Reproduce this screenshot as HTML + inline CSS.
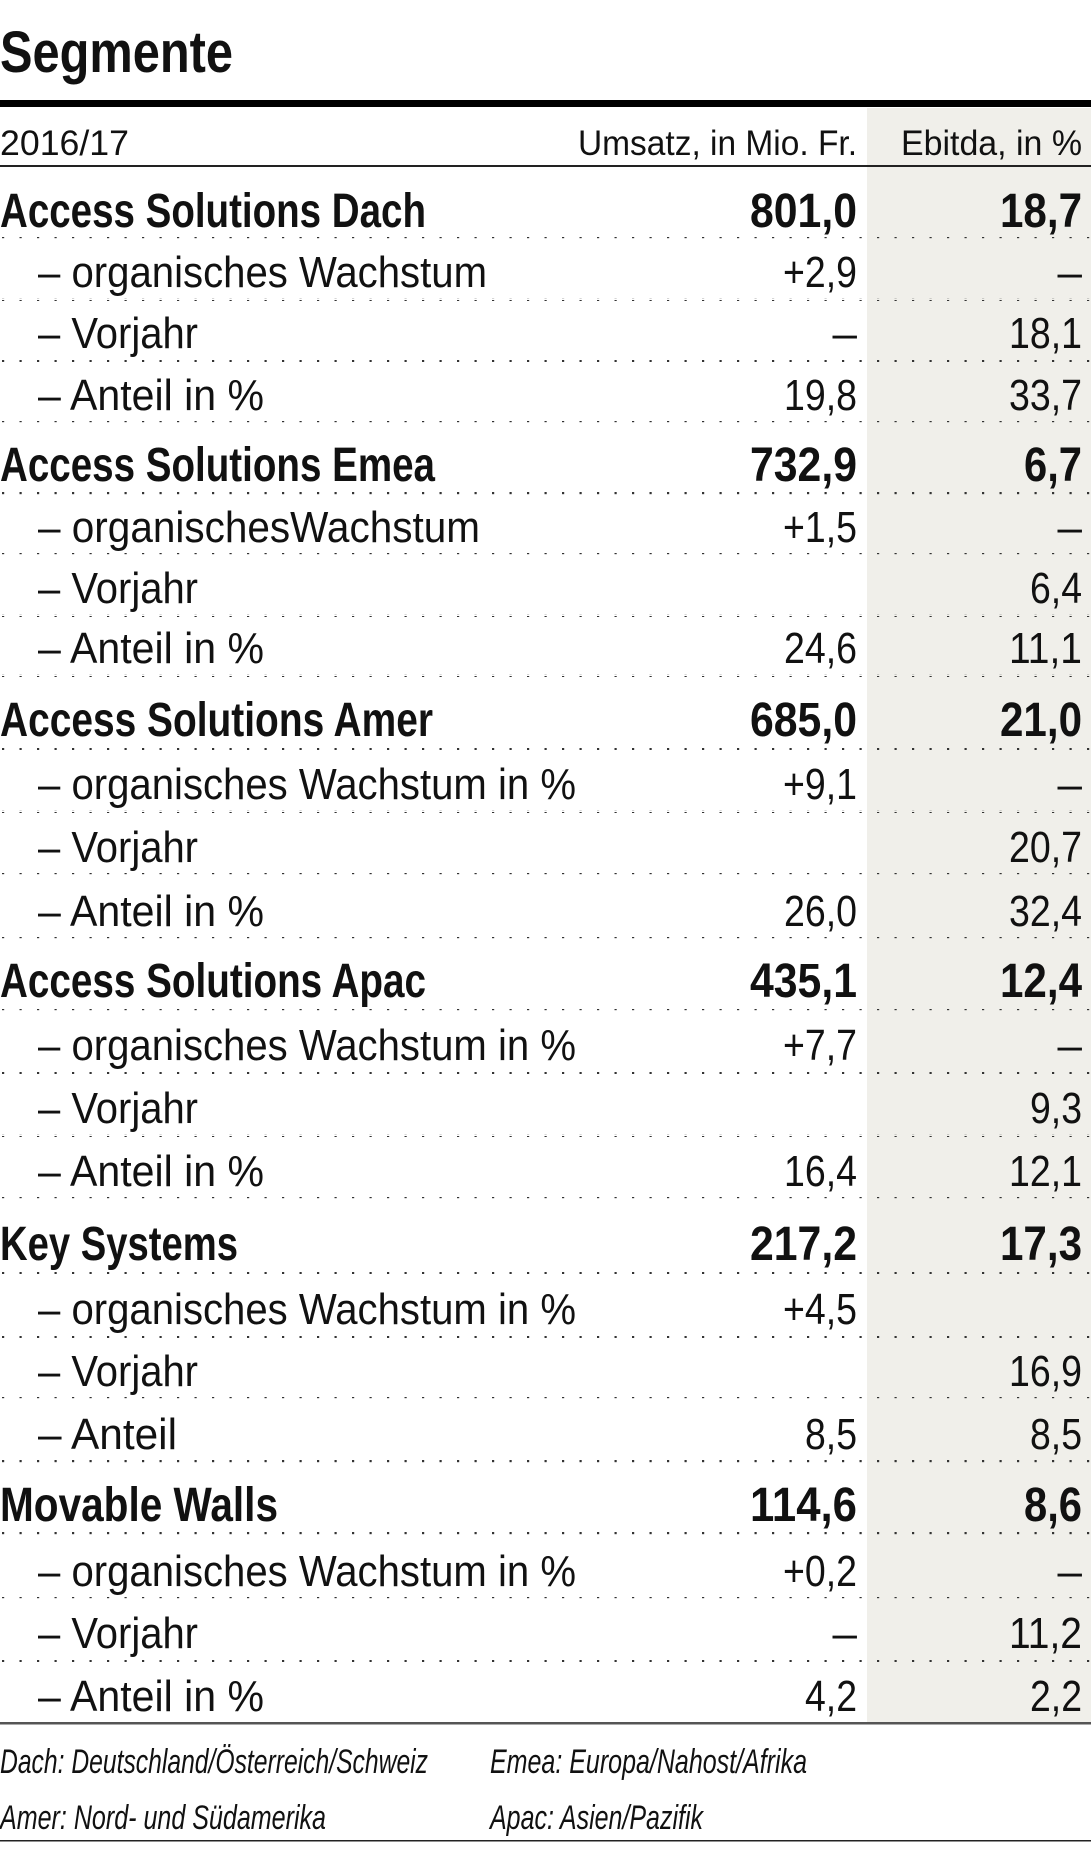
<!DOCTYPE html>
<html><head><meta charset="utf-8"><style>
html,body{margin:0;padding:0;background:#fff;}
svg{display:block;}
text{font-family:"Liberation Sans",sans-serif;fill:#111;}
.b{font-weight:bold;font-size:48px;}
.r{font-size:44px;}
.h{font-size:35px;}
.f{font-size:34px;font-style:italic;}
</style></head><body>
<svg width="1091" height="1871" viewBox="0 0 1091 1871" xmlns="http://www.w3.org/2000/svg">
<defs>
<pattern id="dots" x="2" y="0" width="17.5" height="4" patternUnits="userSpaceOnUse">
<rect x="0" y="0" width="2.2" height="2.2" fill="#333"/>
</pattern>
</defs>
<rect x="867" y="108" width="224" height="1615" fill="#f0efea"/>
<text x="0" y="72" style="font-weight:bold;font-size:58px" textLength="233" lengthAdjust="spacingAndGlyphs">Segmente</text>
<rect x="0" y="100" width="1091" height="7" fill="#000"/>
<text class="h" x="0" y="155" textLength="129" lengthAdjust="spacingAndGlyphs">2016/17</text>
<text class="h" x="578" y="155" textLength="279" lengthAdjust="spacingAndGlyphs">Umsatz, in Mio. Fr.</text>
<text class="h" x="901" y="155" textLength="181" lengthAdjust="spacingAndGlyphs">Ebitda, in %</text>
<rect x="0" y="165" width="1091" height="2" fill="#222"/>

<g fill="url(#dots)">
<rect x="0" y="237" width="1091" height="3"/>
<rect x="0" y="298" width="1091" height="3"/>
<rect x="0" y="359" width="1091" height="3"/>
<rect x="0" y="421" width="1091" height="3"/>
<rect x="0" y="492" width="1091" height="3"/>
<rect x="0" y="553" width="1091" height="3"/>
<rect x="0" y="614" width="1091" height="3"/>
<rect x="0" y="674" width="1091" height="3"/>
<rect x="0" y="747" width="1091" height="3"/>
<rect x="0" y="810" width="1091" height="3"/>
<rect x="0" y="873" width="1091" height="3"/>
<rect x="0" y="937" width="1091" height="3"/>
<rect x="0" y="1009" width="1091" height="3"/>
<rect x="0" y="1071" width="1091" height="3"/>
<rect x="0" y="1134" width="1091" height="3"/>
<rect x="0" y="1197" width="1091" height="3"/>
<rect x="0" y="1271" width="1091" height="3"/>
<rect x="0" y="1335" width="1091" height="3"/>
<rect x="0" y="1397" width="1091" height="3"/>
<rect x="0" y="1460" width="1091" height="3"/>
<rect x="0" y="1532" width="1091" height="3"/>
<rect x="0" y="1597" width="1091" height="3"/>
<rect x="0" y="1659" width="1091" height="3"/>
</g>
<rect x="0" y="1722" width="1091" height="2.5" fill="#555"/>

<!-- Block 1 -->
<text class="b" x="0" y="227" textLength="426" lengthAdjust="spacingAndGlyphs">Access Solutions Dach</text>
<text class="b" x="750" y="227" textLength="107" lengthAdjust="spacingAndGlyphs">801,0</text>
<text class="b" x="1000" y="227" textLength="82" lengthAdjust="spacingAndGlyphs">18,7</text>
<text class="r" x="38" y="287" textLength="449" lengthAdjust="spacingAndGlyphs">– organisches Wachstum</text>
<text class="r" x="783" y="287" textLength="74" lengthAdjust="spacingAndGlyphs">+2,9</text>
<text class="r" x="1082" y="287" text-anchor="end">–</text>
<text class="r" x="38" y="348" textLength="160" lengthAdjust="spacingAndGlyphs">– Vorjahr</text>
<text class="r" x="857" y="348" text-anchor="end">–</text>
<text class="r" x="1009" y="348" textLength="73" lengthAdjust="spacingAndGlyphs">18,1</text>
<text class="r" x="38" y="410" textLength="226" lengthAdjust="spacingAndGlyphs">– Anteil in %</text>
<text class="r" x="784" y="410" textLength="73" lengthAdjust="spacingAndGlyphs">19,8</text>
<text class="r" x="1009" y="410" textLength="73" lengthAdjust="spacingAndGlyphs">33,7</text>

<!-- Block 2 -->
<text class="b" x="0" y="481" textLength="435" lengthAdjust="spacingAndGlyphs">Access Solutions Emea</text>
<text class="b" x="750" y="481" textLength="107" lengthAdjust="spacingAndGlyphs">732,9</text>
<text class="b" x="1024" y="481" textLength="58" lengthAdjust="spacingAndGlyphs">6,7</text>
<text class="r" x="38" y="542" textLength="442" lengthAdjust="spacingAndGlyphs">– organischesWachstum</text>
<text class="r" x="783" y="542" textLength="74" lengthAdjust="spacingAndGlyphs">+1,5</text>
<text class="r" x="1082" y="542" text-anchor="end">–</text>
<text class="r" x="38" y="603" textLength="160" lengthAdjust="spacingAndGlyphs">– Vorjahr</text>
<text class="r" x="1030" y="603" textLength="52" lengthAdjust="spacingAndGlyphs">6,4</text>
<text class="r" x="38" y="663" textLength="226" lengthAdjust="spacingAndGlyphs">– Anteil in %</text>
<text class="r" x="784" y="663" textLength="73" lengthAdjust="spacingAndGlyphs">24,6</text>
<text class="r" x="1009" y="663" textLength="73" lengthAdjust="spacingAndGlyphs">11,1</text>

<!-- Block 3 -->
<text class="b" x="0" y="736" textLength="433" lengthAdjust="spacingAndGlyphs">Access Solutions Amer</text>
<text class="b" x="750" y="736" textLength="107" lengthAdjust="spacingAndGlyphs">685,0</text>
<text class="b" x="1000" y="736" textLength="82" lengthAdjust="spacingAndGlyphs">21,0</text>
<text class="r" x="38" y="799" textLength="538" lengthAdjust="spacingAndGlyphs">– organisches Wachstum in %</text>
<text class="r" x="783" y="799" textLength="74" lengthAdjust="spacingAndGlyphs">+9,1</text>
<text class="r" x="1082" y="799" text-anchor="end">–</text>
<text class="r" x="38" y="862" textLength="160" lengthAdjust="spacingAndGlyphs">– Vorjahr</text>
<text class="r" x="1009" y="862" textLength="73" lengthAdjust="spacingAndGlyphs">20,7</text>
<text class="r" x="38" y="926" textLength="226" lengthAdjust="spacingAndGlyphs">– Anteil in %</text>
<text class="r" x="784" y="926" textLength="73" lengthAdjust="spacingAndGlyphs">26,0</text>
<text class="r" x="1009" y="926" textLength="73" lengthAdjust="spacingAndGlyphs">32,4</text>

<!-- Block 4 -->
<text class="b" x="0" y="997" textLength="426" lengthAdjust="spacingAndGlyphs">Access Solutions Apac</text>
<text class="b" x="750" y="997" textLength="107" lengthAdjust="spacingAndGlyphs">435,1</text>
<text class="b" x="1000" y="997" textLength="82" lengthAdjust="spacingAndGlyphs">12,4</text>
<text class="r" x="38" y="1060" textLength="538" lengthAdjust="spacingAndGlyphs">– organisches Wachstum in %</text>
<text class="r" x="783" y="1060" textLength="74" lengthAdjust="spacingAndGlyphs">+7,7</text>
<text class="r" x="1082" y="1060" text-anchor="end">–</text>
<text class="r" x="38" y="1123" textLength="160" lengthAdjust="spacingAndGlyphs">– Vorjahr</text>
<text class="r" x="1030" y="1123" textLength="52" lengthAdjust="spacingAndGlyphs">9,3</text>
<text class="r" x="38" y="1186" textLength="226" lengthAdjust="spacingAndGlyphs">– Anteil in %</text>
<text class="r" x="784" y="1186" textLength="73" lengthAdjust="spacingAndGlyphs">16,4</text>
<text class="r" x="1009" y="1186" textLength="73" lengthAdjust="spacingAndGlyphs">12,1</text>

<!-- Block 5 -->
<text class="b" x="0" y="1260" textLength="238" lengthAdjust="spacingAndGlyphs">Key Systems</text>
<text class="b" x="750" y="1260" textLength="107" lengthAdjust="spacingAndGlyphs">217,2</text>
<text class="b" x="1000" y="1260" textLength="82" lengthAdjust="spacingAndGlyphs">17,3</text>
<text class="r" x="38" y="1324" textLength="538" lengthAdjust="spacingAndGlyphs">– organisches Wachstum in %</text>
<text class="r" x="783" y="1324" textLength="74" lengthAdjust="spacingAndGlyphs">+4,5</text>
<text class="r" x="38" y="1386" textLength="160" lengthAdjust="spacingAndGlyphs">– Vorjahr</text>
<text class="r" x="1009" y="1386" textLength="73" lengthAdjust="spacingAndGlyphs">16,9</text>
<text class="r" x="38" y="1449" textLength="139" lengthAdjust="spacingAndGlyphs">– Anteil</text>
<text class="r" x="805" y="1449" textLength="52" lengthAdjust="spacingAndGlyphs">8,5</text>
<text class="r" x="1030" y="1449" textLength="52" lengthAdjust="spacingAndGlyphs">8,5</text>

<!-- Block 6 -->
<text class="b" x="0" y="1521" textLength="278" lengthAdjust="spacingAndGlyphs">Movable Walls</text>
<text class="b" x="750" y="1521" textLength="107" lengthAdjust="spacingAndGlyphs">114,6</text>
<text class="b" x="1024" y="1521" textLength="58" lengthAdjust="spacingAndGlyphs">8,6</text>
<text class="r" x="38" y="1586" textLength="538" lengthAdjust="spacingAndGlyphs">– organisches Wachstum in %</text>
<text class="r" x="783" y="1586" textLength="74" lengthAdjust="spacingAndGlyphs">+0,2</text>
<text class="r" x="1082" y="1586" text-anchor="end">–</text>
<text class="r" x="38" y="1648" textLength="160" lengthAdjust="spacingAndGlyphs">– Vorjahr</text>
<text class="r" x="857" y="1648" text-anchor="end">–</text>
<text class="r" x="1009" y="1648" textLength="73" lengthAdjust="spacingAndGlyphs">11,2</text>
<text class="r" x="38" y="1711" textLength="226" lengthAdjust="spacingAndGlyphs">– Anteil in %</text>
<text class="r" x="805" y="1711" textLength="52" lengthAdjust="spacingAndGlyphs">4,2</text>
<text class="r" x="1030" y="1711" textLength="52" lengthAdjust="spacingAndGlyphs">2,2</text>

<text class="f" x="0" y="1773" textLength="428" lengthAdjust="spacingAndGlyphs">Dach: Deutschland/Österreich/Schweiz</text>
<text class="f" x="490" y="1773" textLength="317" lengthAdjust="spacingAndGlyphs">Emea: Europa/Nahost/Afrika</text>
<text class="f" x="0" y="1829" textLength="326" lengthAdjust="spacingAndGlyphs">Amer: Nord- und Südamerika</text>
<text class="f" x="490" y="1829" textLength="213" lengthAdjust="spacingAndGlyphs">Apac: Asien/Pazifik</text>
<rect x="0" y="1840" width="1091" height="1.5" fill="#222"/>
</svg>
</body></html>
